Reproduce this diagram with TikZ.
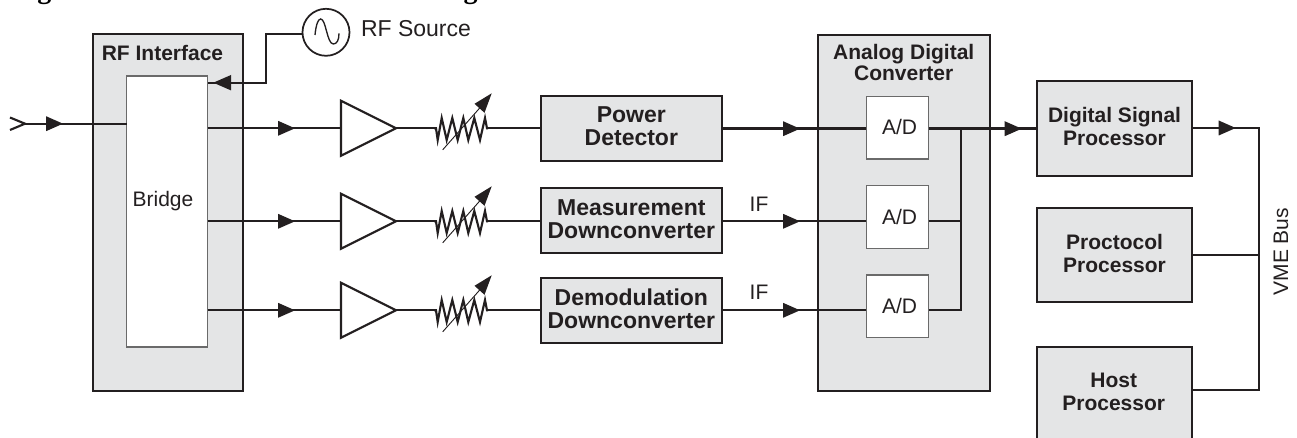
\documentclass[tikz,border=0pt]{standalone}
\usepackage{fontspec}
\setmainfont{Liberation Sans}
\newfontfamily\titleserif{Liberation Serif}
\usetikzlibrary{shapes.geometric}
\definecolor{ink}{HTML}{231F20}
\definecolor{panel}{HTML}{E4E5E6}
\definecolor{thin}{HTML}{6A6A6A}
\newcommand{\lift}{\rule[-3pt]{0pt}{0pt}}
\newcommand{\headtip}[2]{\fill[ink] (#1-17,#2-7.5) -- (#1,#2) -- (#1-17,#2+7.5) -- cycle;}
\newcommand{\resistor}[2]{%
  \coordinate (#1in) at (434,#2);
  \coordinate (#1out) at (488,#2);
  \draw[wire,line join=miter] (#1in) -- (436,#2) -- (437.7,#2+11.7) -- (441.7,#2-10.3) -- (446.7,#2+11.7) -- (452.3,#2-10.3) -- (457.7,#2+11.7) -- (463.3,#2-10.3) -- (468.3,#2+11.7) -- (474.3,#2-10.3) -- (480,#2+11.7) -- (485,#2-10.3) -- (487,#2) -- (#1out);
  \draw[ink,line width=0.7pt] (442.7,#2+21.5) -- (483,#2-24);
  \fill[ink] (491.7,#2-35) -- (474.5,#2-24.5) -- (484.5,#2-15.5) -- cycle;}
\tikzset{
  wire/.style={ink,line width=1.6pt},
  heavywire/.style={ink,line width=1.8pt},
  busline/.style={ink,line width=1.3pt},
  panelbox/.style={draw=ink,fill=panel,line width=1.7pt,outer sep=0pt,inner sep=0pt,align=center},
  bold/.style={font=\fontsize{15.75}{17.25}\selectfont\bfseries,align=center,text=ink,inner sep=0pt},
  plain/.style={font=\fontsize{15.75}{17.25}\selectfont,text=ink,inner sep=0pt},
  whitebox/.style={draw=thin,fill=white,line width=0.8pt,outer sep=0pt,inner sep=0pt,font=\fontsize{15.75}{17.25}\selectfont,text=ink},
  amp/.style={draw=ink,fill=white,line width=1.6pt,shape=isosceles triangle,isosceles triangle stretches,shape border rotate=0,minimum width=41.25pt,minimum height=41.25pt,inner sep=0pt,outer sep=0pt,anchor=lower side},
}
\begin{document}
\begin{tikzpicture}[x=0.75pt,y=-0.75pt]
\useasboundingbox (0,0) rectangle (1297,438);
\clip (0,0) rectangle (1297,438);
% clipped remains of the title line
\node[font=\fontsize{21}{21}\selectfont\bfseries\titleserif,text=black,inner sep=0pt,anchor=base] (tga) at (44.5,-1) {g};
\node[font=\fontsize{21}{21}\selectfont\bfseries\titleserif,text=black,inner sep=0pt,anchor=base] (tgb) at (470.5,-1) {g};
% panels
\node[panelbox,minimum width=112.5pt,minimum height=267.5pt] (rfi) at (167.7,212.35) {};
\node[whitebox,minimum width=60.75pt,minimum height=203.25pt] (bridge) at (167.2,211.5) {};
\node[bold] (rfit) at (162.5,52.5) {RF Interface};
\node[plain] (bridget) at (163,201) {Bridge};
\node[panelbox,minimum width=129.2pt,minimum height=267pt] (adc) at (903.85,213) {};
\node[bold,font=\fontsize{15.75}{15.75}\selectfont\bfseries] (adct) at (903.7,62) {Analog Digital\\Converter};
\node[whitebox,minimum width=46.8pt,minimum height=46.7pt] (ad1) at (897.5,127.85) {\hspace{3pt}\raisebox{0.7pt}{A/D}};
\node[whitebox,minimum width=46.8pt,minimum height=46.7pt] (ad2) at (897.5,217) {\hspace{3pt}\raisebox{0.7pt}{A/D}};
\node[whitebox,minimum width=46.8pt,minimum height=46.7pt] (ad3) at (897.5,306.15) {\hspace{3pt}\raisebox{0.7pt}{A/D}};
\node[panelbox,minimum width=136pt,minimum height=48.75pt,font=\fontsize{17.25}{17.25}\selectfont\bfseries,text=ink] (pd) at (631.35,128.2) {Power\\Detector\lift};
\node[panelbox,minimum width=136pt,minimum height=48.75pt,font=\fontsize{17.25}{17.25}\selectfont\bfseries,text=ink] (md) at (631.35,220.8) {Measurement\\Downconverter\lift};
\node[panelbox,minimum width=136pt,minimum height=48.75pt,font=\fontsize{17.25}{17.25}\selectfont\bfseries,text=ink] (dd) at (631.35,310.2) {Demodulation\\Downconverter\lift};
\node[panelbox,minimum width=116.25pt,minimum height=71pt,font=\fontsize{15.75}{17.25}\selectfont\bfseries,text=ink] (dsp) at (1114.5,128.35) {Digital Signal\\Processor\lift};
\node[panelbox,minimum width=116.25pt,minimum height=71pt,font=\fontsize{15.75}{17.25}\selectfont\bfseries,text=ink] (ppr) at (1114.5,255) {Proctocol\\Processor\lift};
\node[panelbox,minimum width=116.25pt,minimum height=90pt] (host) at (1114.5,406.7) {};
\node[bold] (hostt) at (1113.7,392) {Host\\Processor};
% amplifiers
\node[amp] (a1) at (341,128.3) {};
\node[amp] (a2) at (341,221.3) {};
\node[amp] (a3) at (341,310.3) {};
% source
\node[draw=ink,fill=white,circle,line width=1.3pt,minimum size=35.25pt,inner sep=0pt,outer sep=0pt] (src) at (326,32.3) {};
\draw[ink,line width=1pt] (315,35) .. controls (316,25) and (318,19) .. (320.7,19) .. controls (326,19) and (327,44) .. (333.3,44) .. controls (337,44) and (339,40) .. (339,33.3);
\node[plain,font=\fontsize{17.25}{17.25}\selectfont] (srct) at (416,29) {RF Source};
% input
\coordinate (inp) at (25,123.7);
\draw[wire,line join=miter] (10,117.5) -- (inp) -- (10,130);
\draw[wire] (inp) -- (inp -| bridge.west);
\headtip{63}{123.7}
% source to bridge
\coordinate (srcc) at (266,34.3);
\draw[wire,line join=miter] (src.west |- srcc) -- (srcc) -- (266,82.7) -- (bridge.east |- 0,82.7);
\fill[ink] (213.3,82.7) -- (231,75) -- (231,90.4) -- cycle;
% row wires
\resistor{r1}{128.3}
\resistor{r2}{221.3}
\resistor{r3}{310.3}
\draw[heavywire] (bridge.east |- a1.lower side) -- (a1.lower side);
\draw[wire] (bridge.east |- a2.lower side) -- (a2.lower side);
\draw[wire] (bridge.east |- a3.lower side) -- (a3.lower side);
\headtip{295}{128.3}\headtip{295}{221.3}\headtip{295}{310.3}
\draw[wire] (a1.apex) -- (r1in); \draw[wire] (r1out) -- (pd.west |- r1out);
\draw[wire] (a2.apex) -- (r2in); \draw[wire] (r2out) -- (md.west |- r2out);
\draw[wire] (a3.apex) -- (r3in); \draw[wire] (r3out) -- (dd.west |- r3out);
\coordinate (y1) at (0,128.7); \coordinate (y2) at (0,221.3); \coordinate (y3) at (0,310.3);
\draw[heavywire] (pd.east |- y1) -- (ad1.west |- y1);
\draw[wire] (md.east |- y2) -- (ad2.west |- y2);
\draw[wire] (dd.east |- y3) -- (ad3.west |- y3);
\headtip{800}{128.7}\headtip{800}{221.3}\headtip{800}{310.3}
\node[plain] (if1) at (759,204) {IF};
\node[plain] (if2) at (759,292) {IF};
% A/D combiner
\coordinate (cmb) at (960.7,128.7);
\draw[heavywire] (ad1.east |- y1) -- (dsp.west |- y1);
\draw[heavywire,line join=miter] (cmb) -- (cmb |- y3) -- (ad3.east |- y3);
\draw[wire] (ad2.east |- y2) -- (cmb |- y2);
\headtip{1021.7}{128.7}
% VME bus
\coordinate (bus) at (1259.3,128);
\draw[busline,line join=miter] (dsp.east |- bus) -- (bus) -- (1259.3,390) -- (host.east |- 0,390);
\draw[busline] (ppr.east) -- (bus |- ppr.east);
\headtip{1235.7}{128}
\node[plain,rotate=90] (vme) at (1281,251.7) {VME Bus};
\end{tikzpicture}
\end{document}
